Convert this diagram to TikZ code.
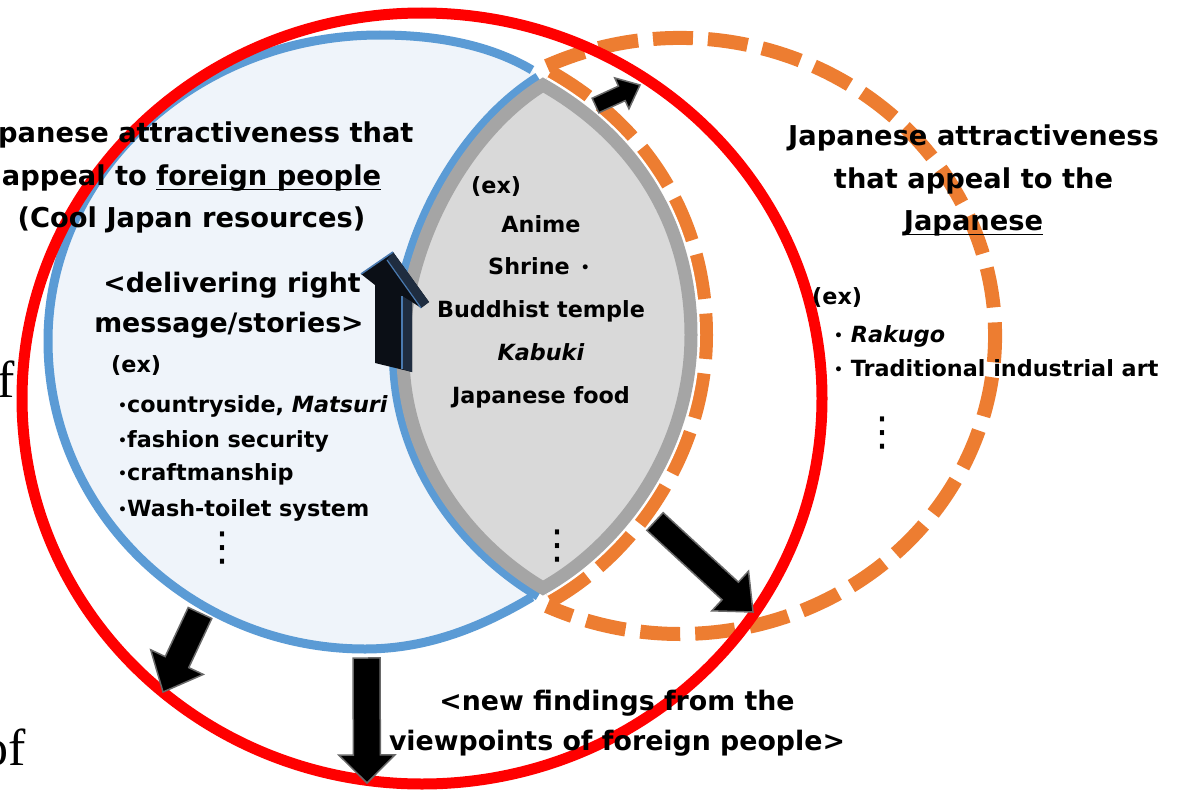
\documentclass[tikz,border=0pt]{standalone}
\usepackage{fontspec}
\setmainfont{DejaVu Sans}[BoldFont={DejaVu Sans Bold}, ItalicFont={DejaVu Sans Oblique}, BoldItalicFont={DejaVu Sans Bold Oblique}]
\newfontfamily\serifface{Liberation Serif}
\newfontfamily\dotsface{DejaVu Sans}
\usetikzlibrary{calc}

\definecolor{redring}{RGB}{255,0,0}
\definecolor{bluering}{RGB}{91,155,213}
\definecolor{bluefill}{RGB}{239,244,250}
\definecolor{orangering}{RGB}{237,125,49}
\definecolor{lensfill}{RGB}{217,217,217}
\definecolor{lensedge}{RGB}{165,165,165}
\definecolor{arrowedge}{RGB}{105,105,105}
\definecolor{arrowdark}{RGB}{11,15,22}
\definecolor{arrowside}{RGB}{31,45,64}
\definecolor{arrowglow}{RGB}{74,122,176}

% underlined word with a rule just under the baseline
\newsavebox\ulbox
\newcommand\ulin[1]{\sbox\ulbox{#1}\rlap{\rule[-5.4pt]{\wd\ulbox}{1.8pt}}\usebox\ulbox}
\newcommand\smallbul{\raisebox{1.2pt}{\fontsize{14}{14}\selectfont •}}
\newcommand\vdotschar{{\dotsface\fontsize{40}{40}\selectfont ⋮}}

% block arrow: tail, tip, half shaft width, half head width, head length (all in pt)
\newcommand\blockarrow[5]{%
  \coordinate (#1h) at ($(#2)!#5pt!(#1)$);
  \filldraw[fill=black, draw=arrowedge, line width=1.5]
    ($(#1)!#3pt!90:(#2)$) -- ($(#1h)!#3pt!90:(#2)$) -- ($(#1h)!#4pt!90:(#2)$) -- (#2)
    -- ($(#1h)!#4pt!-90:(#2)$) -- ($(#1h)!#3pt!-90:(#2)$) -- ($(#1)!#3pt!-90:(#2)$) -- cycle;}

% sides of the overlap lens, top tip to bottom tip
\def\lensleft{(543,85) .. controls (470,130) and (403,240) .. (403,355) .. controls (403,460) and (470,545) .. (543,588)}
\def\lensright{(543,85) .. controls (640,140) and (691,230) .. (691,335) .. controls (691,450) and (620,545) .. (543,588)}

\tikzset{
  titletext/.style={font=\fontsize{27.3}{27.3}\selectfont\bfseries, inner sep=0, anchor=base},
  midtext/.style={font=\fontsize{26.8}{26.8}\selectfont\bfseries, inner sep=0, anchor=base},
  smalltext/.style={font=\fontsize{22.3}{22.3}\selectfont\bfseries, inner sep=0, anchor=base},
  leftsmall/.style={smalltext, anchor=base west},
  dotsnode/.style={inner sep=0, anchor=center},
  serifbit/.style={font=\serifface\fontsize{52}{52}\selectfont, inner sep=0},
}

\begin{document}
\begin{tikzpicture}[x=1pt, y=-1pt, line join=miter]
\useasboundingbox[fill=white] (0,0) rectangle (1178,792);

% Japanese-appeal set: dashed outer arc
\draw[orangering, line width=14, dash pattern=on 40 off 15]
  (680,336) ++(-115:315 and 298) arc[start angle=-115, end angle=115, x radius=315, y radius=298];
% dashed inner arc running just outside the overlap
\draw[orangering, line width=44, dash pattern=on 43 off 14] \lensright;
\draw[white, line width=18] \lensright;

% foreign-appeal crescent
\fill[bluefill]
  (532,70) .. controls (495,48) and (445,35) .. (380,35)
  .. controls (196.6,35) and (48,172) .. (48,341)
  .. controls (48,511) and (190,649) .. (365,649)
  .. controls (430,649) and (485,625) .. (532,597)
  -- (543,588) .. controls (470,545) and (403,460) .. (403,355)
  .. controls (403,240) and (470,130) .. (543,85) -- cycle;
\draw[bluering, line width=9]
  (532,70) .. controls (495,48) and (445,35) .. (380,35)
  .. controls (196.6,35) and (48,172) .. (48,341)
  .. controls (48,511) and (190,649) .. (365,649)
  .. controls (430,649) and (485,625) .. (532,597);
\draw[bluering, line width=28] \lensleft;

% overlap lens
\filldraw[fill=lensfill, draw=lensedge, line width=13]
  (543,85) .. controls (470,130) and (403,240) .. (403,355)
  .. controls (403,460) and (470,545) .. (543,588)
  .. controls (620,545) and (691,450) .. (691,335)
  .. controls (691,230) and (640,140) .. cycle;

% outer red ring
\draw[redring, line width=11] (422,398.5) ellipse[x radius=400, y radius=385.5];

% black block arrows
\coordinate (aTopTail) at (595.5,105.5); \coordinate (aTopTip) at (640,85);
\coordinate (aRTail) at (655,521.5);     \coordinate (aRTip) at (753,612);
\coordinate (aLTail) at (200,613);       \coordinate (aLTip) at (163,692);
\coordinate (aDTail) at (366.5,658);     \coordinate (aDTip) at (367,783);
\blockarrow{aTopTail}{aTopTip}{8}{17}{20}
\blockarrow{aRTail}{aRTip}{12}{27}{31}
\blockarrow{aLTail}{aLTip}{13}{29}{33}
\blockarrow{aDTail}{aDTip}{13.5}{28}{28}

% raised upward arrow beside the lens
\fill[arrowdark] (361,274) -- (393,252) -- (429,302) -- (421,308) -- (412,302) -- (412,372) -- (375,363) -- (375,285) -- cycle;
\fill[arrowside] (402,296) -- (412,302) -- (412,372) -- (402,369) -- cycle;
\fill[arrowside] (393,252) -- (429,302) -- (421,308) -- (387,260) -- cycle;
\draw[arrowglow, line width=1.6] (361,274) -- (393,252);
\draw[arrowglow, line width=1.2] (402,296) -- (402,369);
\draw[arrowglow, line width=1.2] (387,260) -- (421,308);

% left title
\node[titletext] (lt1) at (191.5,142) {Japanese attractiveness that};
\node[titletext] (lt2) at (191.5,185) {appeal to \ulin{foreign people}};
\node[titletext] (lt3) at (191.5,227) {(Cool Japan resources)};

% right title
\node[titletext] (rt1) at (973.5,145) {Japanese attractiveness};
\node[titletext] (rt2) at (973.5,188) {that appeal to the};
\node[titletext] (rt3) at (973.5,230) {\ulin{Japanese}};

% right examples
\node[leftsmall] (rex) at (812,304) {(ex)};
\node[leftsmall] (rl1) at (834,342) {\smallbul\ \textit{Rakugo}};
\node[leftsmall] (rl2) at (834,376) {\smallbul\ Traditional industrial art};
\node[dotsnode] (rdots) at (882,433) {\vdotschar};

% lens examples
\node[leftsmall] (lex) at (471,193) {(ex)};
\node[smalltext] (l1) at (541,232) {Anime};
\node[leftsmall] (l2) at (488,274) {Shrine\hspace{11pt}\smallbul};
\node[smalltext] (l3) at (541,317) {Buddhist temple};
\node[smalltext] (l4) at (541,360) {\textit{Kabuki}};
\node[smalltext] (l5) at (541,403) {Japanese food};
\node[dotsnode] (ldots) at (557,546) {\vdotschar};

% left examples
\node[midtext] (d1) at (232,292) {<delivering right};
\node[midtext] (d2) at (229,332) {message/stories>};
\node[leftsmall] (fex) at (111,372) {(ex)};
\node[leftsmall] (f1) at (118,412) {\smallbul countryside, \textit{Matsuri}};
\node[leftsmall] (f2) at (118,447) {\smallbul fashion security};
\node[leftsmall] (f3) at (118,480) {\smallbul craftmanship};
\node[leftsmall] (f4) at (118,516) {\smallbul Wash-toilet system};
\node[dotsnode] (fdots) at (222,548) {\vdotschar};

% bottom caption
\node[midtext] (b1) at (617,710) {<new findings from the};
\node[midtext] (b2) at (617,750) {viewpoints of foreign people>};

% surrounding page text cut by the left edge
\node[serifbit, anchor=base west] (pg1) at (-3,397) {f};
\node[serifbit, anchor=base east] (pg2) at (26,765) {of};
\end{tikzpicture}
\end{document}
